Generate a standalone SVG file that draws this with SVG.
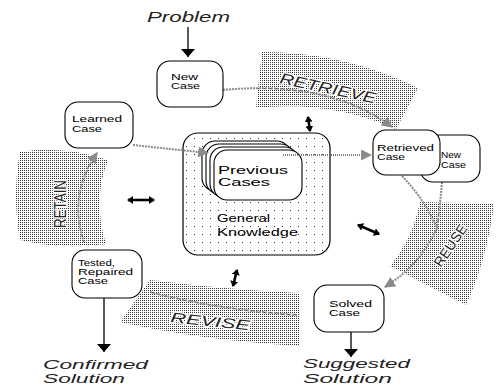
<svg xmlns="http://www.w3.org/2000/svg" width="496" height="386" viewBox="0 0 496 386">
<style>
.node{fill:#fff;stroke:#000;stroke-width:1.1}
.lbl{font-family:"Liberation Sans",Arial,sans-serif;font-size:9px;fill:#000}
.big{font-family:"Liberation Sans",Arial,sans-serif;font-size:11px;fill:#000}
.ital{font-family:"Liberation Sans",Arial,sans-serif;font-style:italic;font-size:13px;fill:#222}
.phase{font-family:"Liberation Sans",Arial,sans-serif;font-size:14px;fill:#222;stroke:#fff;stroke-width:2.5;paint-order:stroke;stroke-linejoin:round}
.band{fill:url(#half);stroke:none}
.conn{fill:none;stroke:#8a8a8a;stroke-width:2;stroke-dasharray:2 1}
.blk{fill:none;stroke:#000;stroke-width:1.3}
.dbl{fill:none;stroke:#000;stroke-width:2.6}
</style>
<defs>
<pattern id="half" width="2" height="2" patternUnits="userSpaceOnUse"><rect x="0" y="0" width="1" height="1" fill="#333"/></pattern>
<pattern id="sparse" width="8" height="8" patternUnits="userSpaceOnUse"><rect x="2" y="2" width="1" height="1" fill="#333"/></pattern>
<marker id="ga" viewBox="0 0 10 10" refX="9" refY="5" markerWidth="11" markerHeight="11" markerUnits="userSpaceOnUse" orient="auto"><path d="M0,0 L10,5 L0,10 z" fill="#8a8a8a"/></marker>
<marker id="ba" viewBox="0 0 8 14" refX="8" refY="7" markerWidth="8" markerHeight="14" markerUnits="userSpaceOnUse" orient="auto"><path d="M0,0 L8,7 L0,14 z" fill="#000"/></marker>
<marker id="sa" viewBox="0 0 6 8" refX="5" refY="4" markerWidth="6" markerHeight="8" markerUnits="userSpaceOnUse" orient="auto-start-reverse"><path d="M0,0 L6,4 L0,8 z" fill="#000"/></marker>
</defs>
<rect width="496" height="386" fill="#fff"/>

<g id="bands">
<path class="band" d="M262,52 Q345,52 418,88 L396,129 Q330,100 256,108 Z"/>
<path class="band" d="M20,152 Q62,145 108,160 Q92,200 106,244 Q62,250 20,240 Q12,196 20,152 Z"/>
<path class="band" d="M420,202 L494,204 Q486,262 466,305 L390,266 Q412,240 420,202 Z"/>
<path class="band" d="M150,280 Q230,290 300,293 L300,346 Q200,340 120,322 Z"/>
<text class="phase" style="font-style:italic;font-size:15px" transform="translate(279,83) rotate(12)" textLength="98" lengthAdjust="spacingAndGlyphs">RETRIEVE</text>
<text class="phase" style="font-size:17px" transform="translate(66,228) rotate(-90)" textLength="48" lengthAdjust="spacingAndGlyphs">RETAIN</text>
<text class="phase" transform="translate(441,268) rotate(-56)" textLength="48" lengthAdjust="spacingAndGlyphs">REUSE</text>
<text class="phase" style="font-style:italic" transform="translate(170,322) rotate(6)" textLength="80" lengthAdjust="spacingAndGlyphs">REVISE</text>
</g>

<g id="knowledge">
<rect x="183" y="133" width="147" height="122" rx="15" fill="#fff" stroke="#000" stroke-width="1.2"/>
<rect x="183" y="133" width="147" height="122" rx="15" fill="url(#sparse)"/>
<rect x="202" y="141" width="88" height="50" rx="13" class="node"/>
<rect x="206" y="144" width="88" height="50" rx="13" class="node"/>
<rect x="210" y="147" width="88" height="50" rx="13" class="node"/>
<rect x="214" y="150" width="88" height="50" rx="13" class="node"/>
<text class="big" x="218" y="174" textLength="70" lengthAdjust="spacingAndGlyphs">Previous</text>
<text class="big" x="218" y="186" textLength="52" lengthAdjust="spacingAndGlyphs">Cases</text>
<text class="big" x="217" y="222" textLength="53" lengthAdjust="spacingAndGlyphs">General</text>
<text class="big" x="217" y="236" textLength="81" lengthAdjust="spacingAndGlyphs">Knowledge</text>
</g>

<g id="connectors">
<path class="conn" d="M223,90 Q330,80 392,127" marker-end="url(#ga)"/>
<path d="M283,155 L371,155" fill="none" stroke="#555" stroke-width="1.3" stroke-dasharray="1 1" marker-end="url(#ga)"/>
<path class="conn" d="M133,145 L208,153" marker-end="url(#ga)"/>
<path class="conn" d="M402,176 Q425,200 437,228"/>
<path class="conn" d="M442,182 Q440,205 437,228"/>
<path class="conn" d="M437,228 Q420,265 385,287" marker-end="url(#ga)"/>
<path class="conn" d="M297,315 Q220,310 150,292"/>
<path class="conn" d="M84,242 Q68,195 97,153" marker-end="url(#ga)"/>
<path class="blk" d="M188,27 L188,57" marker-end="url(#ba)"/>
<path class="blk" d="M104,298 L104,352" marker-end="url(#ba)"/>
<path class="blk" d="M351,332 L351,357" marker-end="url(#ba)"/>
<path class="dbl" d="M308,117 L310,131" marker-start="url(#sa)" marker-end="url(#sa)"/>
<path class="dbl" d="M128,200 L154,200" marker-start="url(#sa)" marker-end="url(#sa)"/>
<path class="dbl" d="M358,225 L379,234" marker-start="url(#sa)" marker-end="url(#sa)"/>
<path class="dbl" d="M237,270 L233,286" marker-start="url(#sa)" marker-end="url(#sa)"/>
</g>

<g id="problem">
<text class="ital" style="font-size:14px" x="147" y="22" textLength="83" lengthAdjust="spacingAndGlyphs">Problem</text>
</g>

<g id="new-case">
<rect x="157" y="61" width="66" height="46" rx="13" class="node"/>
<text class="lbl" x="171" y="80" textLength="27" lengthAdjust="spacingAndGlyphs">New</text>
<text class="lbl" x="171" y="89" textLength="29" lengthAdjust="spacingAndGlyphs">Case</text>
</g>

<g id="learned-case">
<rect x="65" y="102" width="68" height="46" rx="13" class="node"/>
<text class="lbl" x="72" y="122" textLength="50" lengthAdjust="spacingAndGlyphs">Learned</text>
<text class="lbl" x="72" y="132" textLength="30" lengthAdjust="spacingAndGlyphs">Case</text>
</g>

<g id="new-case-2">
<rect x="420" y="135" width="60" height="47" rx="13" class="node"/>
<text class="lbl" x="441" y="158" textLength="20" lengthAdjust="spacingAndGlyphs">New</text>
<text class="lbl" x="441" y="168" textLength="25" lengthAdjust="spacingAndGlyphs">Case</text>
</g>

<g id="retrieved-case">
<rect x="373" y="130" width="67" height="45" rx="13" class="node"/>
<text class="lbl" x="377" y="151" textLength="57" lengthAdjust="spacingAndGlyphs">Retrieved</text>
<text class="lbl" x="377" y="160" textLength="28" lengthAdjust="spacingAndGlyphs">Case</text>
</g>

<g id="tested-case">
<rect x="72" y="250" width="70" height="48" rx="13" class="node"/>
<text class="lbl" x="78" y="266" textLength="37" lengthAdjust="spacingAndGlyphs">Tested,</text>
<text class="lbl" x="78" y="275" textLength="55" lengthAdjust="spacingAndGlyphs">Repaired</text>
<text class="lbl" x="78" y="284" textLength="30" lengthAdjust="spacingAndGlyphs">Case</text>
</g>

<g id="solved-case">
<rect x="314" y="285" width="70" height="47" rx="13" class="node"/>
<text class="lbl" x="329" y="307" textLength="43" lengthAdjust="spacingAndGlyphs">Solved</text>
<text class="lbl" x="329" y="316" textLength="31" lengthAdjust="spacingAndGlyphs">Case</text>
</g>

<g id="confirmed-solution">
<text class="ital" x="43" y="369" textLength="105" lengthAdjust="spacingAndGlyphs">Confirmed</text>
<text class="ital" x="43" y="383" textLength="82" lengthAdjust="spacingAndGlyphs">Solution</text>
</g>

<g id="suggested-solution">
<text class="ital" x="303" y="368" textLength="107" lengthAdjust="spacingAndGlyphs">Suggested</text>
<text class="ital" x="303" y="383" textLength="89" lengthAdjust="spacingAndGlyphs">Solution</text>
</g>
</svg>
